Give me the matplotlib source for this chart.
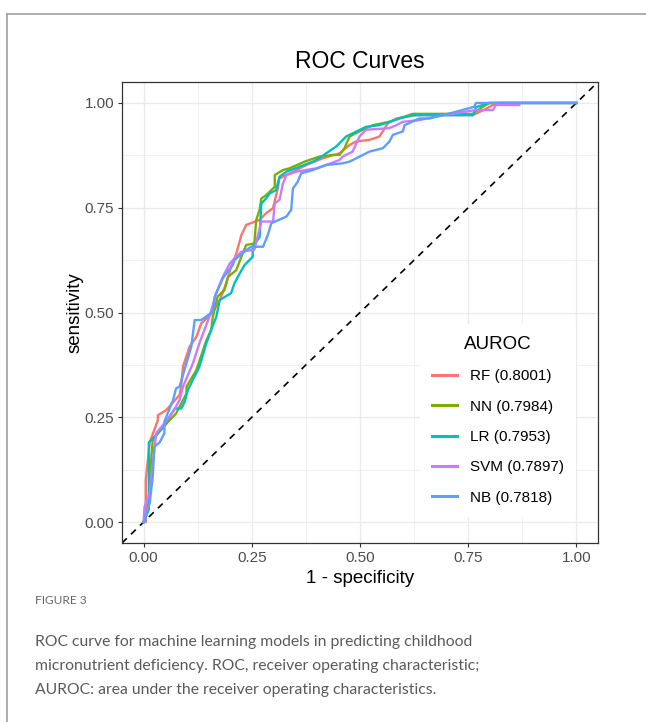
import matplotlib
matplotlib.use("Agg")
import matplotlib.pyplot as plt
from matplotlib.lines import Line2D

# ROC points (fpr, tpr)
rf_fpr = [0, 0.005, 0.005, 0.014, 0.033, 0.033, 0.052, 0.083, 0.087, 0.091, 0.106, 0.122, 0.133, 0.15, 0.16,
          0.176, 0.191, 0.202, 0.214, 0.226, 0.237, 0.268, 0.283, 0.299, 0.31, 0.314, 0.353, 0.376, 0.414,
          0.453, 0.476, 0.491, 0.522, 0.545, 0.564, 0.584, 0.63, 0.761, 0.791, 0.807, 0.822, 1.0]
rf_tpr = [0, 0.0, 0.10, 0.19, 0.243, 0.255, 0.267, 0.303, 0.327, 0.371, 0.418, 0.442, 0.474, 0.49, 0.50,
          0.53, 0.57, 0.609, 0.64, 0.685, 0.709, 0.721, 0.737, 0.749, 0.796, 0.82, 0.84, 0.852, 0.868,
          0.88, 0.90, 0.908, 0.912, 0.92, 0.951, 0.963, 0.971, 0.971, 0.986, 0.995, 1.0, 1.0]

nn_fpr = [0, 0.01, 0.015, 0.018, 0.021, 0.04, 0.06, 0.075, 0.099, 0.099, 0.122, 0.145, 0.156, 0.16, 0.171,
          0.187, 0.195, 0.214, 0.226, 0.237, 0.256, 0.26, 0.268, 0.272, 0.283, 0.303, 0.303, 0.322, 0.337,
          0.372, 0.406, 0.437, 0.453, 0.464, 0.476, 0.506, 0.53, 0.568, 0.622, 0.761, 0.776, 0.799, 1.0]
nn_tpr = [0, 0.03, 0.10, 0.156, 0.196, 0.22, 0.243, 0.259, 0.307, 0.323, 0.363, 0.434, 0.458, 0.49, 0.538,
          0.554, 0.585, 0.601, 0.633, 0.661, 0.665, 0.72, 0.745, 0.772, 0.78, 0.80, 0.828, 0.84, 0.844,
          0.86, 0.872, 0.876, 0.876, 0.892, 0.92, 0.936, 0.947, 0.955, 0.974, 0.974, 0.986, 1.0, 1.0]

lr_fpr = [0, 0.012, 0.012, 0.012, 0.022, 0.045, 0.06, 0.072, 0.087, 0.095, 0.102, 0.106, 0.129, 0.145, 0.156,
          0.168, 0.176, 0.202, 0.21, 0.222, 0.233, 0.252, 0.252, 0.268, 0.272, 0.283, 0.291, 0.306, 0.314,
          0.33, 0.391, 0.406, 0.422, 0.445, 0.468, 0.514, 0.545, 0.591, 0.622, 0.761, 0.768, 0.799, 1.0]
lr_tpr = [0, 0.03, 0.076, 0.19, 0.20, 0.227, 0.251, 0.271, 0.271, 0.287, 0.315, 0.323, 0.371, 0.427, 0.458,
          0.49, 0.53, 0.546, 0.57, 0.593, 0.613, 0.633, 0.657, 0.68, 0.76, 0.772, 0.784, 0.792, 0.824,
          0.836, 0.86, 0.868, 0.88, 0.896, 0.92, 0.943, 0.947, 0.963, 0.971, 0.971, 0.99, 1.0, 1.0]

svm_fpr = [0, 0.002, 0.014, 0.021, 0.029, 0.041, 0.068, 0.083, 0.091, 0.114, 0.129, 0.152, 0.168, 0.183, 0.199,
           0.214, 0.226, 0.256, 0.272, 0.299, 0.303, 0.314, 0.322, 0.33, 0.353, 0.399, 0.422, 0.453, 0.46,
           0.483, 0.499, 0.514, 0.568, 0.584, 0.599, 0.637, 0.691, 0.768, 0.807, 0.814, 0.868]
svm_tpr = [0, 0.036, 0.068, 0.14, 0.212, 0.227, 0.263, 0.291, 0.323, 0.379, 0.427, 0.49, 0.546, 0.585, 0.617,
           0.633, 0.645, 0.65, 0.717, 0.717, 0.76, 0.769, 0.808, 0.828, 0.836, 0.844, 0.852, 0.864, 0.872,
           0.884, 0.92, 0.936, 0.94, 0.947, 0.955, 0.959, 0.971, 0.983, 0.983, 0.995, 0.995]

nb_fpr = [0, 0.014, 0.021, 0.025, 0.037, 0.048, 0.048, 0.068, 0.075, 0.083, 0.11, 0.118, 0.133, 0.16, 0.164,
          0.183, 0.206, 0.21, 0.237, 0.249, 0.276, 0.287, 0.295, 0.33, 0.341, 0.345, 0.356, 0.364, 0.391,
          0.422, 0.46, 0.476, 0.499, 0.522, 0.553, 0.568, 0.576, 0.599, 0.603, 0.637, 0.661, 0.722, 0.764,
          0.768, 1.0]
nb_tpr = [0, 0.045, 0.108, 0.18, 0.19, 0.212, 0.24, 0.291, 0.319, 0.323, 0.418, 0.482, 0.482, 0.502, 0.538,
          0.582, 0.613, 0.625, 0.649, 0.657, 0.657, 0.685, 0.713, 0.729, 0.745, 0.796, 0.812, 0.832, 0.84,
          0.852, 0.856, 0.86, 0.872, 0.884, 0.892, 0.908, 0.924, 0.932, 0.947, 0.963, 0.963, 0.979, 0.991,
          1.0, 1.0]

models = ["RF (0.8001)", "NN (0.7984)", "LR (0.7953)", "SVM (0.7897)", "NB (0.7818)"]
colors = ["#F8766D", "#7CAE00", "#00BFC4", "#C77CFF", "#619CFF"]
curves = [(rf_fpr, rf_tpr), (nn_fpr, nn_tpr), (lr_fpr, lr_tpr), (svm_fpr, svm_tpr), (nb_fpr, nb_tpr)]

ticks = [0, 0.25, 0.5, 0.75, 1.0]
tick_labels = ["0.00", "0.25", "0.50", "0.75", "1.00"]
minor_ticks = [0.125, 0.375, 0.625, 0.875]

plt.rcParams['font.family'] = ['Liberation Sans', 'DejaVu Sans']

fig = plt.figure(figsize=(6.46, 7.22), dpi=100)
ax = fig.add_axes([122 / 646, (722 - 543) / 722, 476 / 646, 461 / 722])

# grid like theme_bw
for t in minor_ticks:
    ax.axvline(t, color="#EBEBEB", lw=0.5, zorder=0)
    ax.axhline(t, color="#EBEBEB", lw=0.5, zorder=0)
for t in ticks:
    ax.axvline(t, color="#EBEBEB", lw=1.0, zorder=0)
    ax.axhline(t, color="#EBEBEB", lw=1.0, zorder=0)

ax.axline((0, 0), (1, 1), color="black", lw=1.2, dashes=(4, 3.5), zorder=1)

for (fx, ty), name, c in zip(curves, models, colors):
    ax.plot(fx, ty, color=c, lw=1.7, label=name, zorder=2)

ax.set_xlim(-0.05, 1.05)
ax.set_ylim(-0.05, 1.05)
ax.set_xticks(ticks)
ax.set_xticklabels(tick_labels)
ax.set_yticks(ticks)
ax.set_yticklabels(tick_labels)
ax.tick_params(length=3, width=0.8, color="#333333", labelcolor="#4D4D4D", labelsize=11, pad=2.5)
for s in ax.spines.values():
    s.set_color("#333333")
    s.set_linewidth(0.9)

ax.set_title("ROC Curves", fontsize=16.5, pad=10)
ax.set_xlabel("1 - specificity", fontsize=13.5, labelpad=4)
ax.set_ylabel("sensitivity", fontsize=13.5, labelpad=1)

leg = ax.legend(title="AUROC", loc="center", bbox_to_anchor=(0.79, 0.266), fontsize=11,
                title_fontsize=13.5, frameon=True, facecolor="white", edgecolor="none",
                framealpha=1, handlelength=1.6, handletextpad=0.85, labelspacing=1.07,
                borderpad=0.8)
for line in leg.get_lines():
    line.set_linewidth(2.2)

# figure frame (top and left rule)
fig.add_artist(Line2D([7 / 646, 1], [1 - 14 / 722, 1 - 14 / 722], transform=fig.transFigure,
                      color="#A0A0A0", lw=1.2))
fig.add_artist(Line2D([7 / 646, 7 / 646], [0, 1 - 14 / 722], transform=fig.transFigure,
                      color="#A0A0A0", lw=1.2))

# caption
fig.text(35 / 646, 1 - 601 / 722, "FIGURE 3", family="Lato", fontsize=8.6, color="#666666",
         va="center", ha="left")
caption = ["ROC curve for machine learning models in predicting childhood",
           "micronutrient deficiency. ROC, receiver operating characteristic;",
           "AUROC: area under the receiver operating characteristics."]
for i, line in enumerate(caption):
    fig.text(35 / 646, 1 - (642 + 24 * i) / 722, line, family="Lato", fontsize=11.3,
             color="#5A5A5A", va="center", ha="left")

fig.savefig("out.png", dpi=100)
